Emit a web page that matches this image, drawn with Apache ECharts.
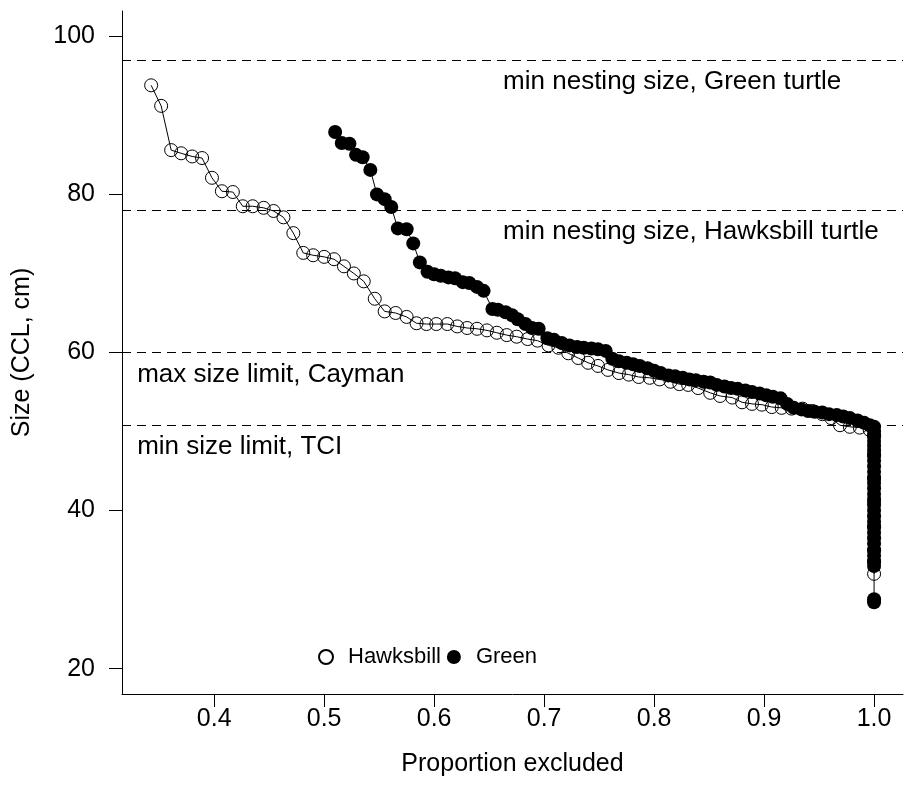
<!DOCTYPE html>
<html><head><meta charset="utf-8">
<script src="https://cdn.jsdelivr.net/npm/echarts@6/dist/echarts.min.js"></script>
<style>html,body{margin:0;padding:0;background:#fff}#c{width:904px;height:805px}</style>
</head><body><div id="c"></div>
<script>
const hawksbillX = [0.3427,0.3518,0.3609,0.370,0.380,0.389,0.398,0.407,0.417,0.426,0.435,0.445,0.454,0.463,0.472,0.481,0.490,0.500,0.509,0.518,0.527,0.536,0.546,0.555,0.565,0.575,0.584,0.593,0.602,0.612,0.621,0.630,0.639,0.648,0.657,0.666,0.675,0.685,0.694,0.704,0.713,0.722,0.731,0.740,0.749,0.758,0.768,0.777,0.786,0.796,0.805,0.815,0.823,0.831,0.840,0.851,0.860,0.871,0.880,0.889,0.898,0.907,0.916,0.925,0.935,0.944,0.953,0.961,0.969,0.978,0.987,0.996,1,1,1,1,1,1,1,1];
const hawksbillY = [93.8,91.2,85.6,85.2,84.8,84.6,82.1,80.4,80.3,78.5,78.5,78.3,77.9,77.1,75.1,72.6,72.3,72.1,71.8,70.9,70.0,69.0,66.8,65.2,65.0,64.5,63.7,63.6,63.6,63.6,63.3,63.1,63.0,62.8,62.5,62.2,62.0,61.7,61.5,60.9,60.6,59.9,59.3,58.7,58.3,57.8,57.4,57.2,56.9,56.8,56.6,56.3,56.0,55.9,55.5,54.9,54.5,54.3,53.7,53.5,53.4,53.1,53.0,52.9,52.9,52.6,52.2,51.7,50.8,50.6,50.5,50.2,49.5,47,44,41,38,35,33.5,32];
const greenX = [0.510,0.516,0.523,0.529,0.535,0.542,0.548,0.555,0.561,0.567,0.575,0.581,0.587,0.594,0.600,0.606,0.613,0.619,0.626,0.632,0.639,0.645,0.653,0.658,0.665,0.671,0.676,0.683,0.689,0.695,0.703,0.709,0.716,0.723,0.730,
  0.736,0.743,0.749,0.756,0.762,0.768,0.775,0.781,0.787,0.794,0.800,0.806,0.813,0.819,0.826,0.832,0.838,0.845,0.851,0.857,0.864,0.870,0.876,0.883,0.889,0.896,0.902,0.908,0.915,0.921,0.927,0.934,0.940,0.946,0.953,0.959,0.966,0.972,0.978,0.985,0.991,0.996,
  1,1,1,1,1,1,1,1,1,1,1,1,1,1,1,1,1,1,1,1,1,1,1,1,1,1,1,1,1];
const greenY = [87.9,86.5,86.4,85.0,84.7,83.1,80.0,79.4,78.4,75.7,75.6,73.8,71.4,70.2,69.9,69.7,69.5,69.4,68.9,68.8,68.3,67.8,65.5,65.4,65.1,64.7,64.2,63.6,63.1,63.0,61.8,61.6,61.2,60.9,60.7,
  60.6,60.5,60.4,60.2,59.2,58.9,58.7,58.5,58.3,58.0,57.7,57.4,57.1,57.0,56.8,56.6,56.5,56.3,56.2,55.9,55.7,55.5,55.4,55.2,55.0,54.8,54.6,54.4,54.2,53.5,53.0,52.8,52.6,52.5,52.4,52.2,52.1,51.9,51.7,51.4,51.1,50.8,
  50.6,50.0,49.4,48.8,48.2,47.6,47.0,46.3,45.6,44.9,44.2,43.5,42.8,42.1,41.4,40.7,40.0,39.3,38.6,37.9,37.2,36.5,35.8,35.0,34.3,33.6,33.0,28.8,28.4];
const xTicks = [0.4,0.5,0.6,0.7,0.8,0.9,1.0];
const yTicks = [20,40,60,80,100];
const refValues = [97,78,60,50.8];
const refLabels = ['min nesting size, Green turtle','min nesting size, Hawksbill turtle','max size limit, Cayman','min size limit, TCI'];
const refLabelX = [0.6627,0.6627,0.33,0.33];
const seriesNames = ['Hawksbill','Green'];

const FONT = '"Liberation Sans", Arial, Helvetica, sans-serif';
const FS = 25, FS_ANN = 26, FS_LEG = 22;
const chart = echarts.init(document.getElementById('c'), null, {renderer:'canvas'});
const zip = (xs, ys) => xs.map((x,i)=>[x, ys[i]]);

const axisCommon = {
  axisLine:{show:true, lineStyle:{color:'#000', width:1}},
  splitLine:{show:false},
};
chart.setOption({
  animation:false,
  backgroundColor:'#fff',
  textStyle:{fontFamily:FONT, color:'#000'},
  grid:{left:122, right:1, top:11, bottom:111, containLabel:false},
  xAxis:{type:'value', min:0.3162, max:1.0263, ...axisCommon,
    name:'Proportion excluded', nameLocation:'middle', nameGap:58,
    nameTextStyle:{fontSize:FS, fontFamily:FONT, color:'#000'},
    axisTick:{show:true, customValues:xTicks, length:13, lineStyle:{color:'#000'}},
    axisLabel:{customValues:xTicks, margin:13, fontSize:FS, fontFamily:FONT, color:'#000', formatter:v=>v.toFixed(1)}},
  yAxis:{type:'value', min:16.8, max:103.2, ...axisCommon,
    name:'Size (CCL, cm)', nameLocation:'middle', nameGap:87,
    nameTextStyle:{fontSize:FS, fontFamily:FONT, color:'#000'},
    axisTick:{show:true, customValues:yTicks, length:13, lineStyle:{color:'#000'}},
    axisLabel:{customValues:yTicks, margin:27, fontSize:FS, fontFamily:FONT, color:'#000'}},
  legend:{left:313, top:641, itemWidth:14, itemHeight:14, itemGap:6, icon:'circle',
    textStyle:{fontSize:FS_LEG, fontFamily:FONT, color:'#000', padding:[0,0,0,10]},
    data:seriesNames},
  series:[
    {name:seriesNames[0], type:'line', data:zip(hawksbillX, hawksbillY), symbol:'circle', symbolSize:13, showAllSymbol:true,
      lineStyle:{color:'#000', width:1}, itemStyle:{color:'rgba(255,255,255,0)', borderColor:'#000', borderWidth:1},
      emphasis:{disabled:true}, z:2},
    {name:seriesNames[1], type:'line', data:zip(greenX, greenY), symbol:'circle', symbolSize:14, showAllSymbol:true,
      lineStyle:{color:'#000', width:1}, itemStyle:{color:'#000', borderColor:'#000', borderWidth:0},
      emphasis:{disabled:true}, z:3,
      markLine:{silent:true, symbol:['none','none'], label:{show:false},
        lineStyle:{color:'#000', width:1, type:[9,6]},
        data:refValues.map(v=>({yAxis:v}))}}
  ]
});
const g = refValues.map((v,i)=>{
  const p = chart.convertToPixel({gridIndex:0}, [refLabelX[i], v]);
  return {type:'text', x:p[0], y:p[1]+22, style:{text:refLabels[i], fontSize:FS_ANN, fontFamily:FONT, fill:'#000', align:'left', verticalAlign:'middle'}};
});
chart.setOption({graphic:g});
</script></body></html>
